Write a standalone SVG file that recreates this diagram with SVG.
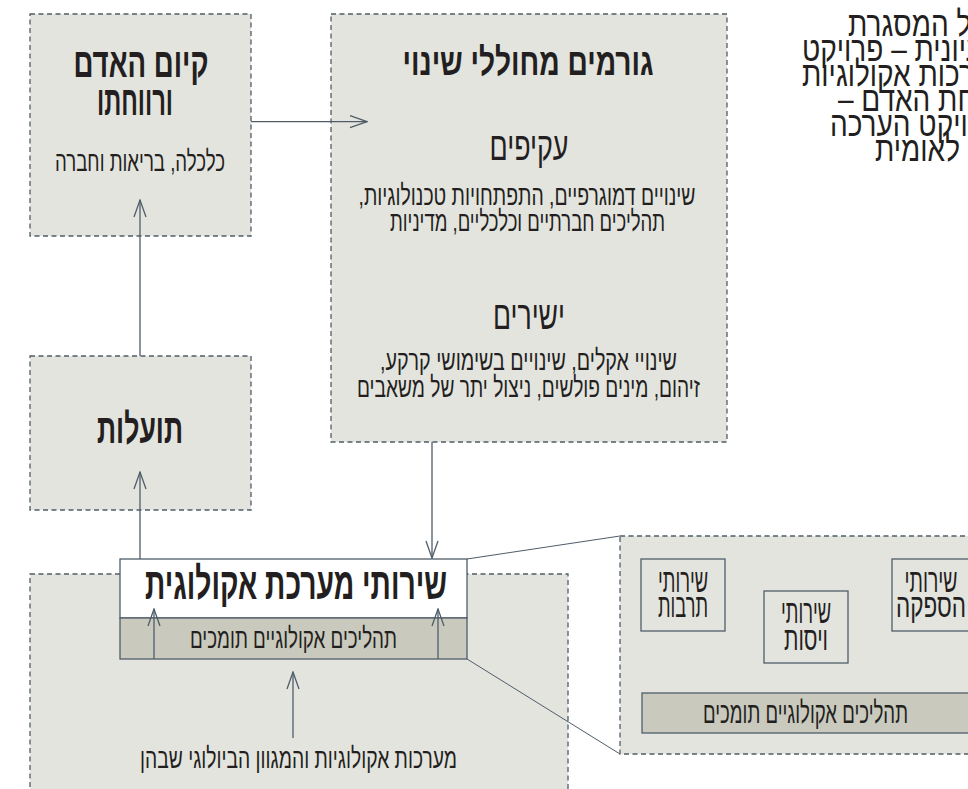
<svg xmlns="http://www.w3.org/2000/svg" width="968" height="789" viewBox="0 0 968 789">
<defs>
<style>
.box{fill:#e4e4df;stroke:#4f5d69;stroke-width:1.3;stroke-dasharray:5 3.5}
.solid{stroke:#4f5d69;stroke-width:1.3}
.conn{fill:none;stroke:#4f5d69;stroke-width:1.3}
.thin{fill:none;stroke:#4f5d69;stroke-width:1}
text{font-family:"Liberation Sans","DejaVu Sans",sans-serif;fill:#231f20;direction:rtl;unicode-bidi:embed}
.b{font-weight:bold;font-size:42px}
.l{font-size:28px}
.m{font-size:40px}
.s{font-size:34px}
.cap{font-size:35px}
</style>
<marker id="arr" viewBox="-18 -7 19 14" refX="0" refY="0" markerWidth="19" markerHeight="14" markerUnits="userSpaceOnUse" orient="auto">
<path d="M-17,-6 L0,0 L-17,6" fill="none" stroke="#4f5d69" stroke-width="1.3"/>
</marker>
</defs>
<rect width="968" height="789" fill="#ffffff"/>

<g id="bottom-system">
<rect class="box" x="30" y="574" width="538" height="240"/>
<text class="l" x="298.5" y="768" text-anchor="middle" textLength="317" lengthAdjust="spacingAndGlyphs">מערכות אקולוגיות והמגוון הביולוגי שבהן</text>
</g>

<g id="detail">
<rect class="box" x="620" y="536" width="380" height="218"/>
<g id="culture">
<rect class="solid" x="641" y="559" width="84" height="72" fill="#e4e4df"/>
<text class="s" x="683" y="592" text-anchor="middle" textLength="50" lengthAdjust="spacingAndGlyphs">שירותי</text>
<text class="s" x="683" y="617" text-anchor="middle" textLength="50" lengthAdjust="spacingAndGlyphs">תרבות</text>
</g>
<g id="regulation">
<rect class="solid" x="764" y="591" width="84" height="72" fill="#e4e4df"/>
<text class="s" x="806" y="623" text-anchor="middle" textLength="50" lengthAdjust="spacingAndGlyphs">שירותי</text>
<text class="s" x="806" y="650" text-anchor="middle" textLength="44" lengthAdjust="spacingAndGlyphs">ויסות</text>
</g>
<g id="provision">
<rect class="solid" x="892" y="559" width="84" height="72" fill="#e4e4df"/>
<text class="s" x="931" y="592" text-anchor="middle" textLength="53" lengthAdjust="spacingAndGlyphs">שירותי</text>
<text class="s" x="931" y="617" text-anchor="middle" textLength="70" lengthAdjust="spacingAndGlyphs">הספקה</text>
</g>
<g id="detail-support">
<rect class="solid" x="642" y="693" width="328" height="40" fill="#c9c9bd"/>
<text class="l" style="font-size:30px" x="805.5" y="723" text-anchor="middle" textLength="205" lengthAdjust="spacingAndGlyphs">תהליכים אקולוגיים תומכים</text>
</g>
</g>

<g id="services">
<rect class="solid" x="120" y="559" width="347" height="59" fill="#ffffff"/>
<rect class="solid" x="120" y="618" width="347" height="41" fill="#c9c9bd"/>
<text class="b" style="font-size:44px" x="296" y="599" text-anchor="middle" textLength="302" lengthAdjust="spacingAndGlyphs">שירותי מערכת אקולוגית</text>
<text class="l" x="293.5" y="648" text-anchor="middle" textLength="207" lengthAdjust="spacingAndGlyphs">תהליכים אקולוגיים תומכים</text>
</g>

<g id="wellbeing">
<rect class="box" x="30" y="14" width="221" height="222"/>
<text class="b" x="141" y="77" text-anchor="middle" textLength="135" lengthAdjust="spacingAndGlyphs">קיום האדם</text>
<text class="b" x="135" y="115" text-anchor="middle" textLength="76" lengthAdjust="spacingAndGlyphs">ורווחתו</text>
<text class="l" x="140" y="171" text-anchor="middle" textLength="170" lengthAdjust="spacingAndGlyphs">כלכלה, בריאות וחברה</text>
</g>

<g id="benefits">
<rect class="box" x="30" y="356" width="221" height="154"/>
<text class="b" x="140" y="443" text-anchor="middle" textLength="86" lengthAdjust="spacingAndGlyphs">תועלות</text>
</g>

<g id="drivers">
<rect class="box" x="331" y="14" width="396" height="428"/>
<text class="b" style="font-size:38px" x="528" y="75" text-anchor="middle" textLength="251" lengthAdjust="spacingAndGlyphs">גורמים מחוללי שינוי</text>
<text class="m" x="529" y="160" text-anchor="middle" textLength="79" lengthAdjust="spacingAndGlyphs">עקיפים</text>
<text class="l" x="527" y="205" text-anchor="middle" textLength="337" lengthAdjust="spacingAndGlyphs">שינויים דמוגרפיים, התפתחויות טכנולוגיות,</text>
<text class="l" x="527.5" y="231" text-anchor="middle" textLength="275" lengthAdjust="spacingAndGlyphs">תהליכים חברתיים וכלכליים, מדיניות</text>
<text class="m" x="529" y="329" text-anchor="middle" textLength="72" lengthAdjust="spacingAndGlyphs">ישירים</text>
<text class="l" x="528.5" y="370" text-anchor="middle" textLength="297" lengthAdjust="spacingAndGlyphs">שינויי אקלים, שינויים בשימושי קרקע,</text>
<text class="l" x="528.5" y="397" text-anchor="middle" textLength="343" lengthAdjust="spacingAndGlyphs">זיהום, מינים פולשים, ניצול יתר של משאבים</text>
</g>

<g id="caption">
<text class="cap" transform="translate(848,36) scale(0.8,1)" x="0" y="0" text-anchor="end">מודל המסגרת</text>
<text class="cap" transform="translate(802,61) scale(0.8,1)" x="0" y="0" text-anchor="end">הרעיונית – פרויקט</text>
<text class="cap" transform="translate(802,86) scale(0.8,1)" x="0" y="0" text-anchor="end">מערכות אקולוגיות</text>
<text class="cap" transform="translate(838,111) scale(0.8,1)" x="0" y="0" text-anchor="end">ורווחת האדם –</text>
<text class="cap" transform="translate(830,136) scale(0.8,1)" x="0" y="0" text-anchor="end">פרויקט הערכה</text>
<text class="cap" transform="translate(875,161) scale(0.8,1)" x="0" y="0" text-anchor="end">לאומית</text>
</g>

<g id="connectors">
<line class="conn" x1="251" y1="121.7" x2="367" y2="121.7" marker-end="url(#arr)"/>
<line class="conn" x1="140" y1="356" x2="140" y2="200" marker-end="url(#arr)"/>
<line class="conn" x1="140" y1="559" x2="140" y2="472" marker-end="url(#arr)"/>
<line class="conn" x1="432" y1="442" x2="432" y2="558" marker-end="url(#arr)"/>
<line class="conn" x1="154" y1="659" x2="154" y2="609" marker-end="url(#arr)"/>
<line class="conn" x1="438" y1="659" x2="438" y2="609" marker-end="url(#arr)"/>
<line class="conn" x1="293" y1="738" x2="293" y2="672" marker-end="url(#arr)"/>
<line class="thin" x1="467" y1="559" x2="620" y2="536"/>
<line class="thin" x1="467" y1="659" x2="620" y2="754"/>
</g>
</svg>
